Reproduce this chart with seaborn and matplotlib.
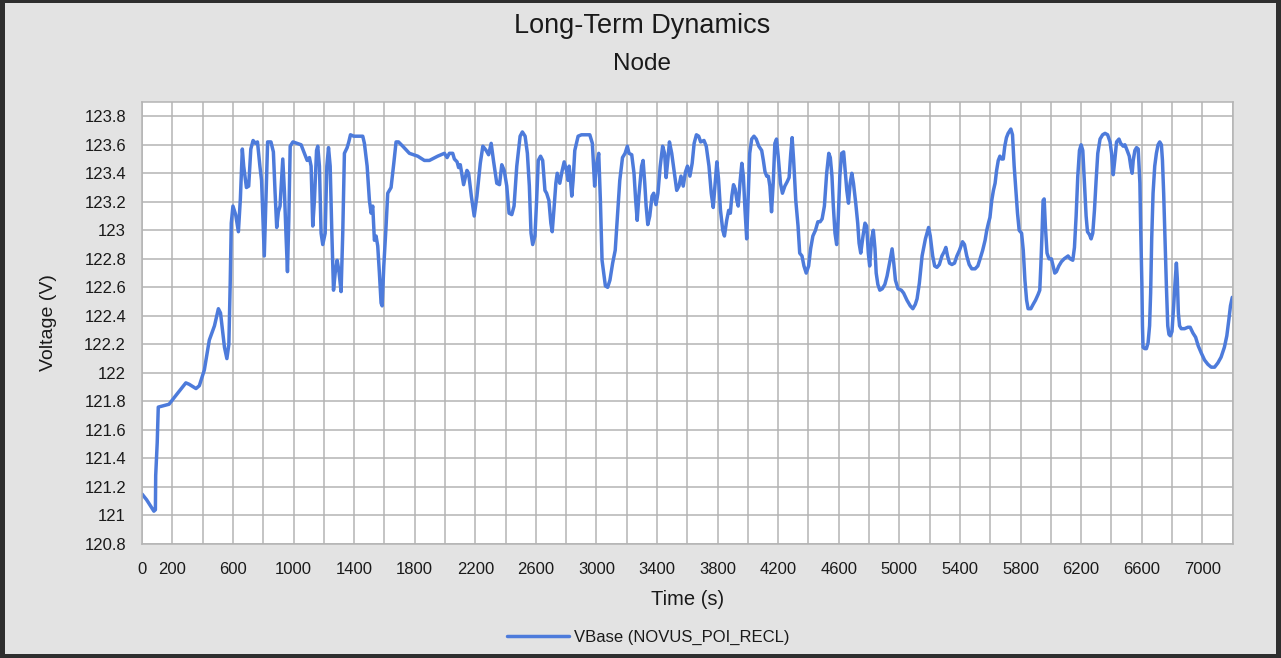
import matplotlib
matplotlib.use("Agg")
import matplotlib.pyplot as plt
from matplotlib.patches import Rectangle
import pandas as pd
import seaborn as sns

# ---------------- data ----------------
TIME_S = [
    0, 30, 78, 88, 90, 100, 107, 178, 222, 289, 311, 356, 378, 411, 444, 478, 504, 518, 544, 560,
    573, 582, 589, 600, 618, 636, 649, 662, 671, 689, 704, 718, 733, 749, 762, 778, 789, 800, 807, 818,
    829, 851, 867, 878, 889, 900, 911, 929, 940, 951, 960, 969, 978, 996, 1050, 1072, 1090, 1105, 1116, 1127,
    1138, 1152, 1160, 1171, 1182, 1193, 1209, 1220, 1231, 1242, 1253, 1264, 1275, 1288, 1299, 1314, 1325, 1336, 1354, 1365,
    1376, 1398, 1457, 1468, 1486, 1501, 1512, 1523, 1534, 1545, 1556, 1567, 1578, 1585, 1596, 1611, 1622, 1644, 1662, 1677,
    1693, 1721, 1765, 1820, 1864, 1897, 1952, 1996, 2014, 2029, 2051, 2062, 2080, 2090, 2101, 2123, 2145, 2156, 2174, 2193,
    2211, 2233, 2250, 2272, 2288, 2305, 2320, 2342, 2360, 2375, 2391, 2408, 2423, 2441, 2456, 2474, 2496, 2511, 2529, 2544,
    2557, 2568, 2579, 2594, 2605, 2616, 2631, 2645, 2660, 2671, 2686, 2699, 2708, 2719, 2732, 2741, 2758, 2774, 2787, 2802,
    2813, 2820, 2829, 2837, 2846, 2857, 2879, 2901, 2956, 2973, 2988, 2999, 3015, 3026, 3037, 3048, 3059, 3074, 3089, 3107,
    3124, 3139, 3154, 3172, 3189, 3204, 3215, 3233, 3248, 3259, 3269, 3280, 3298, 3308, 3319, 3328, 3339, 3352, 3367, 3378,
    3393, 3406, 3421, 3437, 3450, 3460, 3471, 3482, 3497, 3512, 3530, 3545, 3558, 3573, 3588, 3601, 3617, 3632, 3645, 3660,
    3675, 3688, 3710, 3725, 3743, 3758, 3771, 3784, 3795, 3806, 3819, 3834, 3845, 3860, 3873, 3884, 3894, 3905, 3916, 3927,
    3936, 3949, 3960, 3970, 3981, 3992, 4001, 4012, 4025, 4040, 4055, 4072, 4091, 4102, 4113, 4124, 4135, 4145, 4156, 4167,
    4178, 4189, 4200, 4215, 4228, 4244, 4259, 4272, 4283, 4292, 4302, 4316, 4331, 4342, 4357, 4370, 4385, 4401, 4414, 4429,
    4446, 4462, 4477, 4490, 4505, 4520, 4534, 4544, 4555, 4564, 4575, 4586, 4597, 4607, 4619, 4632, 4642, 4653, 4664, 4675,
    4686, 4697, 4712, 4725, 4734, 4745, 4760, 4773, 4784, 4795, 4804, 4817, 4828, 4839, 4847, 4858, 4871, 4887, 4904, 4919,
    4935, 4952, 4963, 4974, 4991, 5013, 5028, 5050, 5072, 5089, 5105, 5117, 5132, 5150, 5172, 5193, 5204, 5220, 5233, 5248,
    5264, 5281, 5296, 5307, 5318, 5331, 5347, 5364, 5380, 5397, 5417, 5430, 5445, 5461, 5478, 5500, 5518, 5533, 5550, 5566,
    5577, 5588, 5598, 5610, 5621, 5632, 5642, 5653, 5664, 5675, 5686, 5696, 5707, 5718, 5736, 5747, 5758, 5769, 5780, 5791,
    5807, 5818, 5829, 5840, 5850, 5868, 5883, 5899, 5916, 5927, 5934, 5942, 5949, 5956, 5964, 5975, 5988, 6004, 6015, 6026,
    6037, 6053, 6070, 6088, 6114, 6128, 6145, 6156, 6167, 6178, 6189, 6200, 6211, 6222, 6233, 6242, 6255, 6266, 6277, 6288,
    6299, 6310, 6325, 6342, 6358, 6375, 6391, 6401, 6412, 6423, 6434, 6450, 6461, 6478, 6489, 6504, 6518, 6529, 6537, 6544,
    6555, 6566, 6577, 6588, 6594, 6601, 6605, 6609, 6620, 6631, 6642, 6652, 6659, 6666, 6675, 6686, 6697, 6708, 6719, 6730,
    6737, 6745, 6754, 6763, 6772, 6780, 6789, 6800, 6811, 6820, 6829, 6835, 6842, 6850, 6861, 6883, 6905, 6920, 6938, 6956,
    6973, 6993, 7015, 7037, 7059, 7081, 7103, 7124, 7146, 7162, 7175, 7186, 7198,
]
VOLTAGE_V = [
    121.15, 121.11, 121.03, 121.04, 121.28, 121.51, 121.76, 121.78, 121.84, 121.93, 121.92, 121.89, 121.91, 122.02, 122.23, 122.33, 122.45, 122.42, 122.18, 122.10,
    122.20, 122.63, 123.05, 123.17, 123.11, 122.99, 123.22, 123.57, 123.45, 123.30, 123.31, 123.57, 123.63, 123.61, 123.62, 123.45, 123.35, 123.03, 122.82, 123.22,
    123.62, 123.62, 123.55, 123.27, 123.02, 123.13, 123.17, 123.50, 123.27, 122.95, 122.71, 123.08, 123.59, 123.62, 123.60, 123.54, 123.49, 123.51, 123.45, 123.03,
    123.21, 123.56, 123.59, 123.45, 122.98, 122.90, 122.98, 123.45, 123.58, 123.45, 122.98, 122.58, 122.70, 122.79, 122.72, 122.57, 122.98, 123.54, 123.58, 123.62,
    123.67, 123.66, 123.66, 123.61, 123.45, 123.21, 123.12, 123.17, 122.93, 122.96, 122.89, 122.70, 122.49, 122.47, 122.75, 123.03, 123.26, 123.30, 123.47, 123.62,
    123.62, 123.59, 123.54, 123.52, 123.49, 123.49, 123.52, 123.54, 123.51, 123.54, 123.54, 123.50, 123.48, 123.44, 123.46, 123.32, 123.42, 123.40, 123.24, 123.10,
    123.24, 123.47, 123.59, 123.56, 123.53, 123.61, 123.49, 123.33, 123.32, 123.46, 123.42, 123.31, 123.12, 123.11, 123.17, 123.45, 123.66, 123.69, 123.66, 123.54,
    123.31, 122.98, 122.90, 122.96, 123.21, 123.49, 123.52, 123.49, 123.28, 123.26, 123.21, 123.05, 122.99, 123.14, 123.33, 123.40, 123.33, 123.42, 123.48, 123.42,
    123.35, 123.45, 123.35, 123.24, 123.35, 123.56, 123.66, 123.67, 123.67, 123.61, 123.31, 123.45, 123.54, 123.21, 122.79, 122.70, 122.61, 122.60, 122.65, 122.77,
    122.86, 123.10, 123.35, 123.51, 123.54, 123.59, 123.54, 123.53, 123.40, 123.21, 123.07, 123.24, 123.45, 123.49, 123.33, 123.17, 123.04, 123.10, 123.24, 123.26,
    123.18, 123.26, 123.45, 123.59, 123.54, 123.37, 123.49, 123.62, 123.54, 123.42, 123.28, 123.31, 123.38, 123.31, 123.41, 123.45, 123.38, 123.47, 123.61, 123.67,
    123.66, 123.62, 123.63, 123.59, 123.45, 123.26, 123.16, 123.33, 123.48, 123.36, 123.14, 123.00, 122.96, 123.07, 123.14, 123.12, 123.24, 123.32, 123.29, 123.21,
    123.17, 123.35, 123.47, 123.38, 123.14, 122.94, 123.21, 123.54, 123.64, 123.66, 123.64, 123.59, 123.56, 123.49, 123.41, 123.38, 123.38, 123.31, 123.13, 123.33,
    123.61, 123.64, 123.52, 123.33, 123.26, 123.31, 123.34, 123.37, 123.54, 123.65, 123.49, 123.21, 123.03, 122.84, 122.82, 122.75, 122.70, 122.75, 122.87, 122.96,
    123.00, 123.06, 123.06, 123.08, 123.17, 123.40, 123.54, 123.51, 123.38, 123.17, 122.98, 122.90, 123.10, 123.38, 123.54, 123.55, 123.42, 123.28, 123.19, 123.33,
    123.40, 123.33, 123.19, 123.05, 122.91, 122.84, 122.96, 123.05, 123.03, 122.84, 122.75, 122.94, 123.00, 122.87, 122.70, 122.62, 122.58, 122.59, 122.62, 122.68,
    122.77, 122.87, 122.77, 122.65, 122.59, 122.58, 122.56, 122.51, 122.47, 122.45, 122.48, 122.52, 122.63, 122.82, 122.94, 123.02, 122.96, 122.82, 122.75, 122.74,
    122.76, 122.82, 122.85, 122.88, 122.82, 122.77, 122.76, 122.77, 122.82, 122.86, 122.92, 122.90, 122.82, 122.76, 122.73, 122.73, 122.75, 122.80, 122.86, 122.93,
    123.00, 123.05, 123.09, 123.21, 123.28, 123.33, 123.42, 123.49, 123.52, 123.50, 123.50, 123.59, 123.65, 123.68, 123.71, 123.67, 123.45, 123.28, 123.12, 123.00,
    122.98, 122.86, 122.65, 122.51, 122.45, 122.45, 122.48, 122.51, 122.55, 122.58, 122.75, 122.98, 123.21, 123.22, 123.03, 122.84, 122.80, 122.80, 122.75, 122.70,
    122.71, 122.75, 122.78, 122.80, 122.82, 122.80, 122.79, 122.88, 123.10, 123.38, 123.56, 123.60, 123.56, 123.33, 123.10, 122.99, 122.97, 122.94, 122.98, 123.14,
    123.35, 123.54, 123.64, 123.67, 123.68, 123.67, 123.62, 123.54, 123.39, 123.50, 123.62, 123.64, 123.61, 123.59, 123.60, 123.56, 123.52, 123.44, 123.40, 123.49,
    123.56, 123.58, 123.57, 123.33, 122.98, 122.63, 122.33, 122.18, 122.17, 122.17, 122.21, 122.33, 122.56, 122.94, 123.26, 123.45, 123.54, 123.60, 123.62, 123.60,
    123.49, 123.26, 122.94, 122.61, 122.33, 122.27, 122.26, 122.29, 122.47, 122.63, 122.77, 122.66, 122.42, 122.33, 122.31, 122.31, 122.32, 122.32, 122.28, 122.25,
    122.19, 122.14, 122.09, 122.06, 122.04, 122.04, 122.07, 122.11, 122.18, 122.26, 122.37, 122.47, 122.53,
]
SERIES_NAME = "VBase (NOVUS_POI_RECL)"
TITLE = "Long-Term Dynamics"
SUBTITLE = "Node"
X_LABEL = "Time (s)"
Y_LABEL = "Voltage (V)"
X_GRID_TICKS = list(range(0, 7201, 200))
X_LABELED_TICKS = [0, 200, 600, 1000, 1400, 1800, 2200, 2600, 3000, 3400, 3800,
                   4200, 4600, 5000, 5400, 5800, 6200, 6600, 7000]
Y_TICKS = [120.8, 121.0, 121.2, 121.4, 121.6, 121.8, 122.0, 122.2, 122.4, 122.6,
           122.8, 123.0, 123.2, 123.4, 123.6, 123.8]

# ---------------- styling ----------------
sns.set_theme(style="whitegrid")
plt.rcParams["font.family"] = ["Liberation Sans", "DejaVu Sans"]

BG = "#e3e3e3"
LINE = "#4d7bdb"
GRID = "#b4b4b4"
TEXT = "#1a1a1a"

fig = plt.figure(figsize=(12.81, 6.58), dpi=100, facecolor=BG)
ax = fig.add_axes([0.1109, 0.1733, 0.8513, 0.6717])
ax.set_facecolor("white")

df = pd.DataFrame({"Time": TIME_S, "Voltage": VOLTAGE_V})
sns.lineplot(data=df, x="Time", y="Voltage", ax=ax, color=LINE, linewidth=2.5,
             estimator=None, sort=False, label=SERIES_NAME)

ax.set_xlim(0, 7200)
ax.set_ylim(120.8, 123.9)

ax.set_xticks(X_GRID_TICKS)
ax.set_xticklabels([str(t) if t in X_LABELED_TICKS else "" for t in X_GRID_TICKS])
ax.set_yticks(Y_TICKS)
ax.set_yticklabels([f"{v:g}" for v in Y_TICKS])

ax.grid(True, color=GRID, linewidth=1.1)
ax.tick_params(axis="both", which="major", length=9, width=1.1, color=GRID,
               labelsize=12, labelcolor=TEXT, pad=2.5)
ax.tick_params(axis="x", pad=4)
for s in ax.spines.values():
    s.set_color(GRID)
    s.set_linewidth(1.1)

ax.set_xlabel(X_LABEL, fontsize=14.5, color=TEXT)
ax.set_ylabel(Y_LABEL, fontsize=14, color=TEXT)
ax.xaxis.set_label_coords(0.5, -0.105)
ax.yaxis.set_label_coords(-0.078, 0.5)

fig.text(0.501, 0.960, TITLE, ha="center", va="center", fontsize=19.5, color=TEXT)
fig.text(0.501, 0.903, SUBTITLE, ha="center", va="center", fontsize=17.5, color=TEXT)

ax.get_legend().remove()
handles, labels = ax.get_legend_handles_labels()
fig.legend(handles, labels, loc="center", bbox_to_anchor=(0.506, 0.032),
           frameon=False, fontsize=12, handlelength=3.7, handletextpad=0.3,
           labelcolor=TEXT)

# screenshot frame
W, H = 1281, 658
frame = "#2e2e2e"
for (x0, y0, w, h) in [(0, 0, 5 / W, 1), (0, 1 - 3 / H, 1, 3 / H),
                       (0, 0, 1, 4 / H), (1 - 5 / W, 0, 5 / W, 1)]:
    fig.patches.append(Rectangle((x0, y0), w, h, transform=fig.transFigure,
                                 facecolor=frame, edgecolor="none", zorder=10))

fig.savefig("out.png", dpi=100, facecolor=BG)
